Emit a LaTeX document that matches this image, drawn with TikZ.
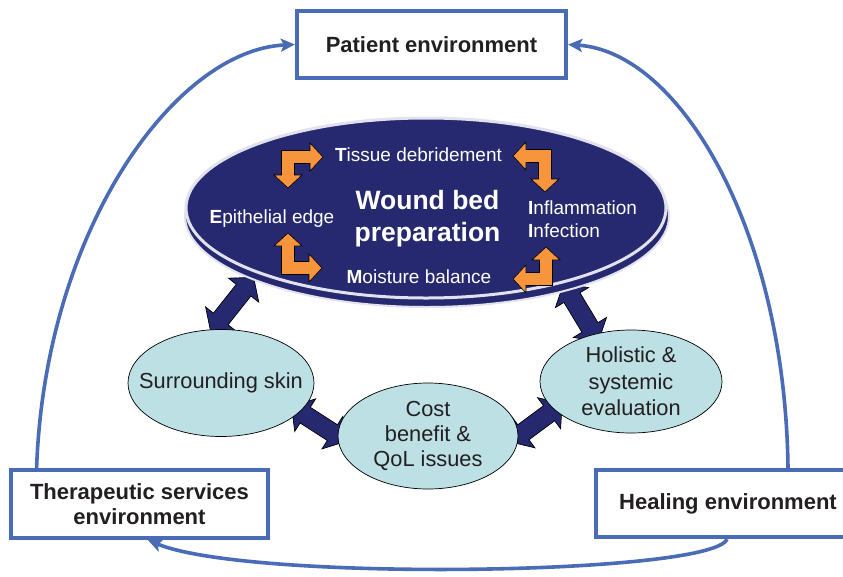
\documentclass[tikz,border=0pt]{standalone}
\usepackage{fontspec}
\setmainfont{Liberation Sans}
\usetikzlibrary{shapes.geometric,shapes.arrows,calc,arrows.meta}
\definecolor{navy}{RGB}{39,41,112}
\definecolor{orng}{RGB}{247,149,61}
\definecolor{lblue}{RGB}{188,224,228}
\definecolor{lineblue}{RGB}{74,107,181}
\definecolor{txt}{RGB}{35,31,32}
\definecolor{paleedge}{RGB}{226,226,238}
\pgfdeclarelayer{backdrop}
\pgfdeclarelayer{bg}
\pgfsetlayers{backdrop,bg,main}
\tikzset{
 envbox/.style={draw=lineblue, line width=3.8pt, fill=white, font=\fontsize{22}{25}\selectfont\bfseries, text=txt, align=center, inner sep=0pt},
 conn/.style={draw=lineblue, line width=3.6pt, -{Stealth[length=14pt,width=13pt,inset=3pt]}},
 factor/.style={ellipse, fill=lblue, draw=black, line width=0.7pt, text=txt, font=\fontsize{21.8}{25}\selectfont, align=center, inner sep=0pt},
 wlabel/.style={text=white, font=\fontsize{19}{23}\selectfont, inner sep=0pt},
 blockarrow/.style={double arrow, fill=navy, draw=black, line width=0.7pt, inner xsep=0pt, inner ysep=9pt, double arrow head extend=10pt, double arrow tip angle=100},
 larrow/.style={fill=orng, draw=black, line width=0.6pt, line join=miter},
 wbpshape/.style={ellipse, fill=navy, inner sep=0pt},
}
\newcommand{\linkarrow}[3]{\path let \p1=($(#1)-(#2)$), \n1={veclen(\x1,\y1)+#3} in (#1) -- (#2) node[midway, sloped, blockarrow, minimum height=\n1] {};}
\newcommand{\orangeL}[6]{%
\begin{scope}[shift={(#1,#2)}, xscale=#3, yscale=#4]
\draw[larrow] (-6.5,-6.5) -- ({#5-13},-6.5) -- ({#5-13},-14) -- (#5,0) -- ({#5-13},14) -- ({#5-13},6.5) -- (6.5,6.5) -- (6.5,{#6-13}) -- (14,{#6-13}) -- (0,#6) -- (-14,{#6-13}) -- (-6.5,{#6-13}) -- cycle;
\end{scope}}
\begin{document}
\begin{tikzpicture}[x=1pt,y=-1pt]
\useasboundingbox (0,0) rectangle (843,576);
\begin{pgfonlayer}{backdrop}
\fill[white] (0,0) rectangle (843,576);
\end{pgfonlayer}

% environment boxes
\node[envbox, minimum width=269.5pt, minimum height=67.5pt] (pat) at (431.5,44.5) {Patient environment};
\node[envbox, minimum width=257.5pt, minimum height=68.5pt] (ther) at (139.5,504) {Therapeutic services\\environment};
\node[envbox, minimum width=264.5pt, minimum height=67.5pt] (heal) at (728,503.5) {Healing environment};

% outer connectors
\draw[conn] ([xshift=27.75pt]ther.north west) .. controls (45,230) and (175,50) .. (pat.west);
\draw[conn] ([xshift=60pt]heal.north) .. controls (785,230) and (680,52) .. (pat.east);
\draw[conn] ([xshift=-1pt]heal.south) .. controls (712,575) and (250,582) .. ([xshift=8.5pt]ther.south);

% wound bed ellipse
\node[wbpshape, draw=paleedge, line width=2pt, minimum width=484pt, minimum height=182pt] (wbps) at (427,216) {};
\node[wbpshape, draw=paleedge, line width=3pt, minimum width=480pt, minimum height=180pt] (wbp) at (426,208) {};

\node[text=white, font=\fontsize{26.5}{32}\selectfont\bfseries, align=center, inner sep=0pt] (title) at (427.5,219) {Wound bed\\preparation};
\node[wlabel, anchor=base] (td) at (418.5,161.7) {\textbf{T}issue debridement};
\node[wlabel, anchor=base] (ee) at (272,223.3) {\textbf{E}pithelial edge};
\node[wlabel, anchor=base] (mb) at (419,283.3) {\textbf{M}oisture balance};
\node[wlabel, anchor=west, align=left] (ii) at (528,219.7) {\textbf{I}nflammation\\\textbf{I}nfection};

\orangeL{288}{157}{1}{1}{35}{31}
\orangeL{288}{268}{1}{-1}{34}{35}
\orangeL{545}{156}{-1}{1}{32}{36}
\orangeL{546}{279}{-1}{-1}{33}{32}

% factor ellipses
\node[factor, inner xsep=-40pt, minimum width=186pt, minimum height=107pt] (skin) at (221,383) {Surrounding skin};
\node[factor, minimum width=180pt, minimum height=106pt] (cost) at (428,436) {Cost\\benefit \&\\QoL issues};
\node[factor, font=\fontsize{21.8}{26.5}\selectfont, minimum width=182pt, minimum height=103pt] (hol) at (631,381.5) {Holistic \&\\systemic\\evaluation};

% block double arrows (behind the ellipses)
\begin{pgfonlayer}{bg}
\linkarrow{wbps.200}{skin.99}{6pt}
\linkarrow{wbps.332}{hol.128.6}{17pt}
\linkarrow{skin.340}{cost.180}{20pt}
\linkarrow{cost.0}{hol.200}{20pt}
\end{pgfonlayer}
\end{tikzpicture}
\end{document}
